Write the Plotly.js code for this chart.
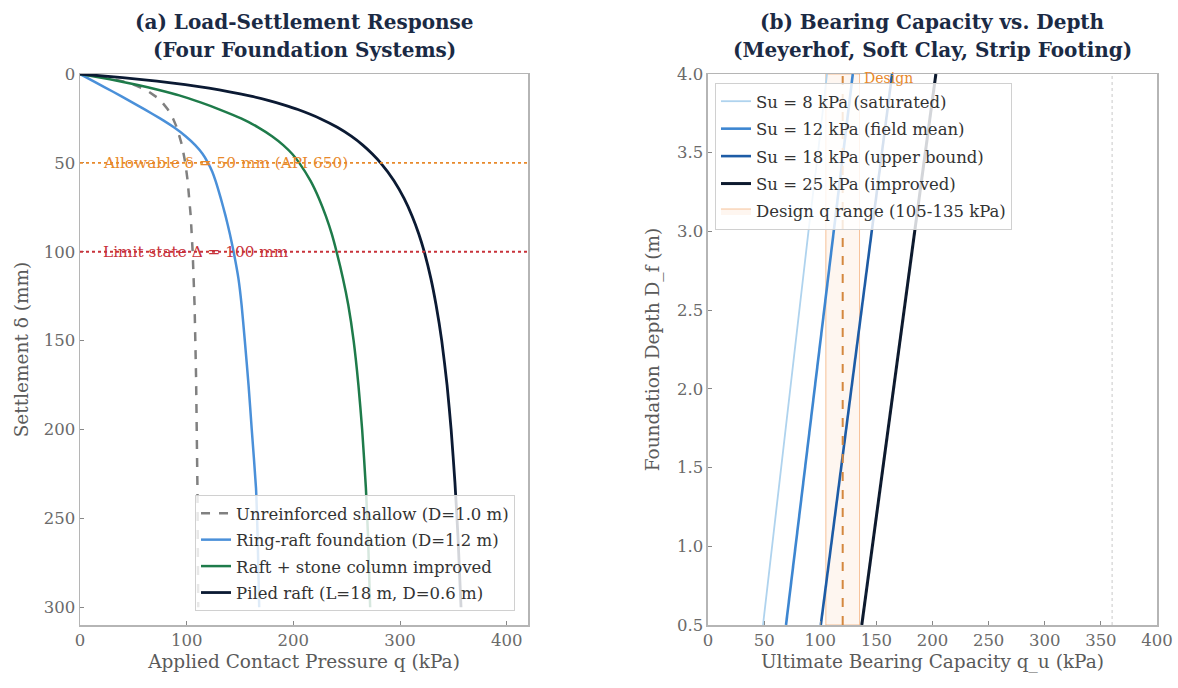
<!DOCTYPE html>
<html>
<head>
<meta charset="utf-8">
<script src="https://cdn.plot.ly/plotly-3.0.1.min.js"></script>
<style>html,body{margin:0;padding:0;background:#fff;} #chart{width:1178px;height:688px;}</style>
</head>
<body>
<div id="chart"></div>
<script>
// ---------- Panel (a): load-settlement data ----------
const unreinforcedS = [0, 2, 4, 6, 8, 10, 13, 16, 20, 25, 30, 40, 50, 60, 80, 100, 130, 170, 233, 300];
const unreinforcedQ = [0, 23.8, 39.3, 50.3, 58.4, 64.6, 71.8, 77.1, 82.4, 87.2, 90.7, 95.6, 98.7, 100.9, 103.8, 105.6, 107.4, 108.8, 110.1, 110.8];

const ringRaftS = [0, 5, 10, 15, 20, 25, 30, 35, 40, 45, 50, 55, 60, 70, 80, 90, 100, 115, 130, 150, 175, 200, 233, 260, 300];
const ringRaftQ = [0, 15.5, 31, 46, 61, 75, 88, 99, 108, 115, 120, 124, 127, 132, 136.5, 140.5, 144, 148.5, 151.5, 154.5, 158, 161, 165, 166.5, 168];

const stoneColS = [0, 3, 6, 9, 12, 16, 20, 25, 30, 35, 40, 45, 50, 60, 70, 80, 90, 100, 115, 130, 150, 175, 200, 233, 260, 300];
const stoneColQ = [0, 28, 53, 74, 93, 113, 131, 151, 167, 180, 190.5, 199, 205.5, 216, 224, 230.5, 236, 240.5, 246.5, 251.5, 256.5, 261, 264.5, 268, 270, 272];

const piledRaftS = [0, 2, 4, 6, 8, 10, 12.5, 15, 17.5, 20, 25, 30, 35, 40, 45, 50, 60, 70, 80, 90, 100, 115, 130, 150, 175, 200, 230, 260, 300];
const piledRaftQ = [0, 39.8, 72.1, 98.7, 121.0, 140.1, 160.2, 177.2, 191.7, 204.3, 224.9, 241.2, 254.3, 265.1, 274.1, 281.8, 294.3, 303.8, 311.4, 317.6, 322.7, 328.9, 333.8, 339.1, 344.1, 347.9, 351.5, 354.3, 357.2];

const seriesNamesA = ["Unreinforced shallow (D=1.0 m)", "Ring-raft foundation (D=1.2 m)",
                      "Raft + stone column improved", "Piled raft (L=18 m, D=0.6 m)"];
const allowableSettlement = 50;
const limitSettlement = 100;
const allowableLabel = "Allowable δ = 50 mm (API 650)";
const limitLabel = "Limit state Δ = 100 mm";

// ---------- Panel (b): bearing capacity vs depth ----------
const depthDf = [0.5, 1.0, 1.5, 2.0, 2.5, 3.0, 3.5, 4.0];
const qu_Su8  = [49, 57, 65, 73, 81, 89.5, 98, 106];
const qu_Su12 = [69.5, 78, 86.5, 95, 103.5, 112, 120.5, 129];
const qu_Su18 = [100.5, 109.5, 118.5, 127.5, 137, 146, 155, 164];
const qu_Su25 = [137, 146.5, 156, 165.5, 175, 184.5, 194, 203];
const seriesNamesB = ["Su = 8 kPa (saturated)", "Su = 12 kPa (field mean)",
                      "Su = 18 kPa (upper bound)", "Su = 25 kPa (improved)"];
const designRange = [105, 135];
const designMean = 120;
const designLabel = "Design q range (105-135 kPa)";
const referenceQ = 360;

const titleA = ["(a) Load-Settlement Response", "(Four Foundation Systems)"];
const titleB = ["(b) Bearing Capacity vs. Depth", "(Meyerhof, Soft Clay, Strip Footing)"];

const FONT = "DejaVu Serif, Liberation Serif, serif";
const dTop = depthDf[depthDf.length - 1], dBot = depthDf[0];

const traces = [
  {x: unreinforcedQ, y: unreinforcedS, name: seriesNamesA[0], mode: "lines", xaxis: "x", yaxis: "y", legend: "legend", legendgroup: "a1",
   line: {color: "#808080", width: 2.5, dash: "dash"}},
  {x: ringRaftQ, y: ringRaftS, name: seriesNamesA[1], mode: "lines", xaxis: "x", yaxis: "y", legend: "legend", legendgroup: "a2",
   line: {color: "#4A90D9", width: 2.5, shape: "spline", smoothing: 0.5}},
  {x: stoneColQ, y: stoneColS, name: seriesNamesA[2], mode: "lines", xaxis: "x", yaxis: "y", legend: "legend", legendgroup: "a3",
   line: {color: "#1E7B4A", width: 2.5, shape: "spline", smoothing: 0.5}},
  {x: piledRaftQ, y: piledRaftS, name: seriesNamesA[3], mode: "lines", xaxis: "x", yaxis: "y", legend: "legend", legendgroup: "a4",
   line: {color: "#0B1A33", width: 2.8, shape: "spline", smoothing: 0.5}},

  {x: [designRange[0], designRange[1], designRange[1], designRange[0], designRange[0]],
   y: [dBot, dBot, dTop, dTop, dBot],
   name: designLabel, mode: "lines", fill: "toself", fillcolor: "rgba(240,140,60,0.08)", legendrank: 5, legendgroup: "b5",
   line: {color: "rgba(240,140,60,0.5)", width: 1}, xaxis: "x2", yaxis: "y2", legend: "legend2", hoverinfo: "skip"},
  {x: qu_Su8, y: depthDf, name: seriesNamesB[0], mode: "lines", xaxis: "x2", yaxis: "y2", legend: "legend2", legendgroup: "b1",
   line: {color: "#AFD3EE", width: 1.8}, legendrank: 1},
  {x: qu_Su12, y: depthDf, name: seriesNamesB[1], mode: "lines", xaxis: "x2", yaxis: "y2", legend: "legend2", legendgroup: "b2",
   line: {color: "#3D86D1", width: 2.6}, legendrank: 2},
  {x: qu_Su18, y: depthDf, name: seriesNamesB[2], mode: "lines", xaxis: "x2", yaxis: "y2", legend: "legend2", legendgroup: "b3",
   line: {color: "#1D5CA6", width: 2.6}, legendrank: 3},
  {x: qu_Su25, y: depthDf, name: seriesNamesB[3], mode: "lines", xaxis: "x2", yaxis: "y2", legend: "legend2", legendgroup: "b4",
   line: {color: "#0D1A2E", width: 3}, legendrank: 4},
  {x: [designMean, designMean], y: [dBot, dTop], mode: "lines", showlegend: false,
   xaxis: "x2", yaxis: "y2", line: {color: "#D4883F", width: 2, dash: "dash"}},
];

const axisCommon = {
  showgrid: false, zeroline: false, showline: true, mirror: true, linecolor: "#B5B5B5", linewidth: 1.5,
  ticks: "inside", ticklen: 4, tickwidth: 1, tickcolor: "#888",
  tickfont: {family: FONT, size: 16.5, color: "#6a6a6a"},
};
const axTitleFont = {family: FONT, size: 18.5, color: "#5a5a5a"};

function titleLine(text, x, ypx) {
  return {xref: "paper", yref: "paper", x: x, y: (625 - ypx) / 551, xanchor: "center", yanchor: "middle", showarrow: false,
          text: "<b>" + text + "</b>", font: {family: FONT, size: 20, color: "#1B2A44"}};
}

const layout = {
  width: 1178, height: 688,
  paper_bgcolor: "#ffffff", plot_bgcolor: "#ffffff",
  margin: {l: 80, r: 21, t: 74, b: 63},
  showlegend: true,
  font: {family: FONT, color: "#444"},
  xaxis: Object.assign({}, axisCommon, {domain: [0, 0.416], range: [0, 420], tickvals: [0, 100, 200, 300, 400],
    anchor: "y", title: {text: "Applied Contact Pressure q (kPa)", font: axTitleFont, standoff: 6}}),
  yaxis: Object.assign({}, axisCommon, {domain: [0, 1], range: [310, 0], tickvals: [0, 50, 100, 150, 200, 250, 300],
    anchor: "x", title: {text: "Settlement δ (mm)", font: axTitleFont, standoff: 10}}),
  xaxis2: Object.assign({}, axisCommon, {domain: [0.5831, 1], range: [0, 400], dtick: 50, tick0: 0,
    anchor: "y2", title: {text: "Ultimate Bearing Capacity q_u (kPa)", font: axTitleFont, standoff: 6}}),
  yaxis2: Object.assign({}, axisCommon, {domain: [0, 1], range: [0.5, 4.0], dtick: 0.5, tick0: 0.5, tickformat: ".1f",
    anchor: "x2", title: {text: "Foundation Depth D_f (m)", font: axTitleFont, standoff: 12}}),
  legend: {x: 0.1068, y: 0.236, xanchor: "left", yanchor: "top", bgcolor: "rgba(255,255,255,0.82)",
    bordercolor: "#d0d0d0", borderwidth: 1, font: {family: FONT, size: 16.5, color: "#333"}, tracegroupgap: 2, itemwidth: 30},
  legend2: {x: 0.5896, y: 0.9837, xanchor: "left", yanchor: "top", bgcolor: "rgba(255,255,255,0.82)",
    bordercolor: "#d0d0d0", borderwidth: 1, font: {family: FONT, size: 16.5, color: "#333"}, tracegroupgap: 3, itemwidth: 30},
  shapes: [
    {type: "line", xref: "x domain", yref: "y", x0: 0, x1: 1, y0: allowableSettlement, y1: allowableSettlement,
     line: {color: "#E8892B", width: 1.8, dash: "dot"}, layer: "above"},
    {type: "line", xref: "x domain", yref: "y", x0: 0, x1: 1, y0: limitSettlement, y1: limitSettlement,
     line: {color: "#C8323A", width: 1.8, dash: "dot"}, layer: "above"},
    {type: "line", xref: "x2", yref: "y2 domain", x0: referenceQ, x1: referenceQ, y0: 0, y1: 1,
     line: {color: "#C8C8C8", width: 1, dash: "dot"}, layer: "below"},
  ],
  annotations: [
    titleLine(titleA[0], 0.208, 22), titleLine(titleA[1], 0.208, 50),
    titleLine(titleB[0], 0.7915, 22), titleLine(titleB[1], 0.7915, 50),
    {xref: "x", yref: "y", x: 20, y: allowableSettlement, xanchor: "left", yanchor: "middle", showarrow: false,
     text: allowableLabel, font: {family: FONT, size: 15.3, color: "#E8892B"}},
    {xref: "x", yref: "y", x: 20, y: limitSettlement, xanchor: "left", yanchor: "middle", showarrow: false,
     text: limitLabel, font: {family: FONT, size: 15.3, color: "#C8323A"}},
    {xref: "x2", yref: "y2", x: designRange[1] + 2, y: dTop, yshift: -4, xanchor: "left", yanchor: "middle", showarrow: false,
     text: "Design", font: {family: FONT, size: 14, color: "#E8892B"}},
  ],
};

Plotly.newPlot("chart", traces, layout, {displayModeBar: false, staticPlot: true});
</script>
</body>
</html>
